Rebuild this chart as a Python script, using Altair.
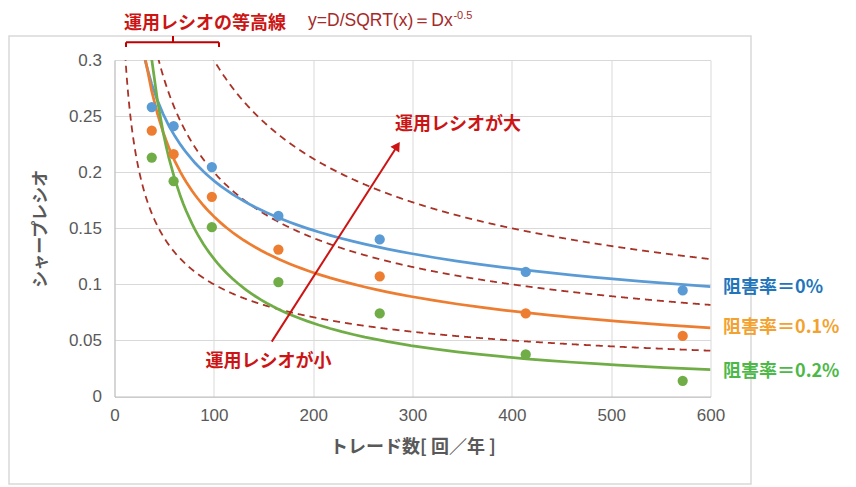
import altair as alt
import pandas as pd

# ---- data ----
trades = [37.5, 59.5, 98, 165, 267, 414, 572]
sharpe_0 = [0.258, 0.241, 0.2045, 0.161, 0.140, 0.111, 0.0946]
sharpe_01 = [0.237, 0.216, 0.178, 0.131, 0.107, 0.074, 0.054]
sharpe_02 = [0.213, 0.192, 0.151, 0.102, 0.074, 0.0375, 0.014]
series_names = ["阻害率＝0%", "阻害率＝0.1%", "阻害率＝0.2%"]
point_colors = ["#5b9bd5", "#ed7d31", "#70ad47"]
label_colors = ["#2275bb", "#f3a22f", "#4cb848"]
label_x = [612.6, 612.6, 612.6]
label_y = [0.0967, 0.0611, 0.0218]

contour_D = [1.0, 2.0, 3.0]  # y = D / sqrt(x)

x_ticks = [0, 100, 200, 300, 400, 500, 600]
y_ticks = [0, 0.05, 0.1, 0.15, 0.2, 0.25, 0.3]

red_texts = ["運用レシオの等高線", "運用レシオが大", "運用レシオが小"]
red_text_x = [91, 345.8, 155]
red_text_y = [0.3318, 0.242, 0.0308]

formula_text = ["y=D/SQRT(x)＝Dx"]
formula_x = [194.9]
formula_y = [0.3345]
sup_text = ["-0.5"]
sup_x = [341.2]
sup_y = [0.3395]

arrow_x = [158.3]
arrow_y = [0.0489]
arrow_x2 = [284.7]
arrow_y2 = [0.2234]

bracket_x = [11.6, 11.6, 105.2, 58.9]
bracket_x2 = [105.2, 11.6, 105.2, 58.9]
bracket_y = [0.3158, 0.3158, 0.3158, 0.3158]
bracket_y2 = [0.3158, 0.3116, 0.3116, 0.3214]

# ---- tables ----
rows = []
for name, vals in zip(series_names, [sharpe_0, sharpe_01, sharpe_02]):
    for xv, yv in zip(trades, vals):
        rows.append({"trades": xv, "sharpe": yv, "series": name})
df = pd.DataFrame(rows)

W, H = 596, 336.5
RED = "#cc1414"
GRAY = "#595959"
JP = "Noto Sans CJK JP"
LAT = "Liberation Sans"

xscale = alt.Scale(domain=[0, 600], nice=False, zero=False)
yscale = alt.Scale(domain=[0, 0.3], nice=False, zero=False)
cscale = alt.Scale(domain=series_names, range=point_colors)

x_axis = alt.Axis(
    values=x_ticks, format="d", title="トレード数[ 回／年 ]", grid=True, ticks=False,
    labelPadding=11, labelFlush=False, titleX=W / 2, titleY=50.5, titleBaseline="middle",
    titleFont=JP, titleFontSize=18, titleFontWeight="bold", titleColor=GRAY)
y_axis = alt.Axis(
    values=y_ticks, format="~g", title="シャープレシオ", grid=True, ticks=False,
    labelPadding=13, labelFlush=False, titleX=-74.5, titleY=H / 2, titleAngle=-90,
    titleAlign="center", titleBaseline="middle", titleFont=JP, titleFontSize=17,
    titleFontWeight="bold", titleColor=GRAY)
X = alt.X("trades:Q", scale=xscale, axis=x_axis)
Y = alt.Y("sharpe:Q", scale=yscale, axis=y_axis)

contours = (
    alt.Chart(pd.DataFrame({"D": contour_D}))
    .transform_calculate(trades="sequence(10, 601, 0.5)")
    .transform_flatten(["trades"])
    .transform_calculate(sharpe="datum.D / sqrt(datum.trades)")
    .mark_line(clip=True, strokeDash=[7, 5], color="#a93226", strokeWidth=1.8)
    .encode(x=X, y=Y, detail="D:N")
)

fits = (
    alt.Chart(df)
    .transform_regression("trades", "sharpe", method="pow", groupby=["series"], extent=[20, 600])
    .mark_line(clip=True, strokeWidth=2.75)
    .encode(x=X, y=Y, color=alt.Color("series:N", scale=cscale, legend=None))
)

points = (
    alt.Chart(df)
    .mark_point(filled=True, opacity=1, size=105)
    .encode(x=X, y=Y, color=alt.Color("series:N", scale=cscale, legend=None))
)

arrow_df = pd.DataFrame({"trades": arrow_x, "sharpe": arrow_y, "x2": arrow_x2, "y2": arrow_y2})
arrow_line = alt.Chart(arrow_df).mark_rule(color=RED, strokeWidth=2).encode(
    x=X, y=Y, x2="x2:Q", y2="y2:Q")
arrow_head = alt.Chart(pd.DataFrame({"trades": arrow_x2, "sharpe": arrow_y2})).mark_point(
    shape="triangle-up", angle=33, filled=True, opacity=1, size=110, color=RED
).encode(x=X, y=Y)

bracket_df = pd.DataFrame({"trades": bracket_x, "x2": bracket_x2, "sharpe": bracket_y, "y2": bracket_y2})
bracket = alt.Chart(bracket_df).mark_rule(color="#c00000", strokeWidth=2).encode(
    x=X, y=Y, x2="x2:Q", y2="y2:Q")

red_df = pd.DataFrame({"trades": red_text_x, "sharpe": red_text_y, "t": red_texts})
red_labels = alt.Chart(red_df).mark_text(
    font=JP, fontSize=18, fontWeight="bold", color=RED, align="center", baseline="middle"
).encode(x=X, y=Y, text="t:N")

formula = alt.Chart(pd.DataFrame({"trades": formula_x, "sharpe": formula_y, "t": formula_text})).mark_text(
    font=LAT, fontSize=17.5, color="#a52a2a", align="left", baseline="middle"
).encode(x=X, y=Y, text="t:N")
sup = alt.Chart(pd.DataFrame({"trades": sup_x, "sharpe": sup_y, "t": sup_text})).mark_text(
    font=LAT, fontSize=11, color="#a52a2a", align="left", baseline="middle"
).encode(x=X, y=Y, text="t:N")

lab_df = pd.DataFrame({"trades": label_x, "sharpe": label_y, "t": series_names, "c": label_colors})
series_labels = alt.Chart(lab_df).mark_text(
    font=JP, fontSize=18, fontWeight="bold", align="left", baseline="middle"
).encode(x=X, y=Y, text="t:N", color=alt.Color("c:N", scale=None))

frame = alt.Chart(alt.Data(values=[{"a": 1}])).mark_rect(
    fillOpacity=0, stroke="#d9d9d9", strokeWidth=1.5
).encode(x=alt.value(-105.5), x2=alt.value(636.5), y=alt.value(-24), y2=alt.value(424))

chart = (
    alt.layer(frame, contours, fits, points, arrow_line, arrow_head, bracket,
              red_labels, formula, sup, series_labels)
    .properties(width=W, height=H, autosize=alt.AutoSizeParams(type="none"),
                padding={"left": 106.5, "top": 52, "right": 137, "bottom": 90})
    .configure_view(stroke="transparent")
    .configure_axis(labelFont=LAT, labelFontSize=17, labelColor=GRAY,
                    gridColor="#d9d9d9", gridWidth=1, domainColor="#bfbfbf", domainWidth=1)
)

chart.save("out.html", embed_options={"renderer": "svg", "actions": False})
